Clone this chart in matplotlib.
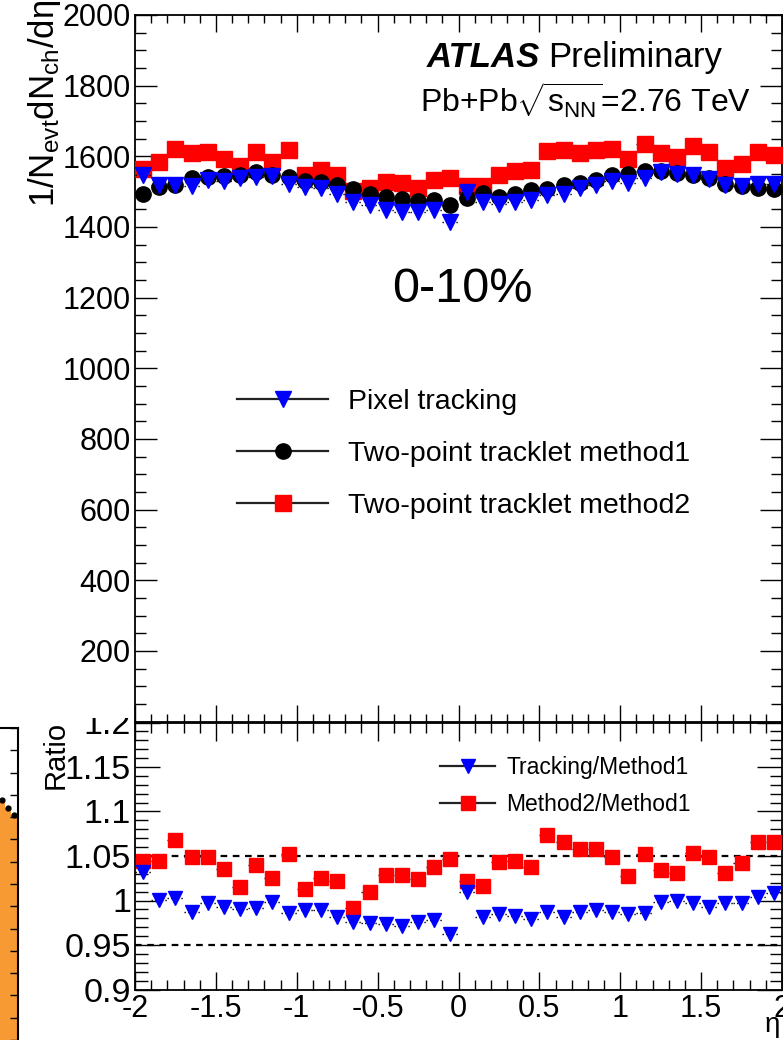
# dNch/deta comparison plot, 0-10% centrality, with ratio panel below
import matplotlib
matplotlib.use("Agg")
import matplotlib.pyplot as plt
from matplotlib.ticker import MultipleLocator, FuncFormatter, NullFormatter
from matplotlib.lines import Line2D
from matplotlib.patches import Rectangle

plt.rcParams['font.family'] = ['Liberation Sans', 'DejaVu Sans']
plt.rcParams['mathtext.fontset'] = 'custom'
plt.rcParams['mathtext.rm'] = 'Liberation Sans'
plt.rcParams['mathtext.it'] = 'Liberation Sans:italic'
plt.rcParams['mathtext.bf'] = 'Liberation Sans:bold'

# ---------- data ----------
eta = [-1.95, -1.85, -1.75, -1.65, -1.55, -1.45, -1.35, -1.25, -1.15, -1.05,
       -0.95, -0.85, -0.75, -0.65, -0.55, -0.45, -0.35, -0.25, -0.15, -0.05,
       0.05, 0.15, 0.25, 0.35, 0.45, 0.55, 0.65, 0.75, 0.85, 0.95,
       1.05, 1.15, 1.25, 1.35, 1.45, 1.55, 1.65, 1.75, 1.85, 1.95]

pixel_tracking = [1546, 1518, 1520, 1516, 1532, 1529, 1539, 1541, 1544, 1523,
                  1513, 1510, 1492, 1471, 1463, 1447, 1441, 1441, 1447, 1413,
                  1499, 1471, 1466, 1471, 1476, 1490, 1494, 1509, 1518, 1529,
                  1525, 1539, 1556, 1551, 1546, 1537, 1518, 1516, 1523, 1523]

method1 = [1494, 1512, 1518, 1539, 1541, 1544, 1548, 1556, 1548, 1541,
           1529, 1527, 1518, 1507, 1494, 1485, 1480, 1473, 1476, 1463,
           1482, 1496, 1486, 1494, 1504, 1507, 1518, 1525, 1533, 1548,
           1550, 1558, 1558, 1553, 1548, 1539, 1523, 1516, 1510, 1507]

method2 = [1563, 1584, 1620, 1610, 1612, 1593, 1573, 1612, 1584, 1617,
           1548, 1560, 1548, 1501, 1509, 1527, 1525, 1509, 1532, 1539,
           1516, 1516, 1546, 1558, 1560, 1614, 1617, 1610, 1619, 1620,
           1593, 1636, 1610, 1598, 1629, 1612, 1568, 1579, 1612, 1605]

ratio_tracking = [1.032, 1.001, 1.003, 0.987, 0.997, 0.993, 0.990, 0.992, 0.998, 0.986,
                  0.989, 0.989, 0.982, 0.976, 0.975, 0.974, 0.971, 0.976, 0.978, 0.962,
                  1.010, 0.981, 0.985, 0.983, 0.979, 0.987, 0.981, 0.987, 0.989, 0.987,
                  0.985, 0.986, 0.998, 0.999, 0.997, 0.993, 0.997, 0.997, 1.004, 1.008]

ratio_method2 = [1.044, 1.044, 1.068, 1.049, 1.049, 1.035, 1.015, 1.040, 1.025, 1.052,
                 1.013, 1.025, 1.022, 0.992, 1.009, 1.029, 1.029, 1.024, 1.038, 1.047,
                 1.022, 1.016, 1.043, 1.044, 1.038, 1.074, 1.066, 1.058, 1.058, 1.049,
                 1.028, 1.052, 1.034, 1.031, 1.053, 1.049, 1.031, 1.042, 1.066, 1.066]

# edge of the neighbouring panel (cut off at the left of the picture)
neighbor_x = [0, 1, 2]
neighbor_edges = [-0.5, 0.5, 1.5, 2.5]
neighbor_vals = [1077, 1041, 1010]

labels_top = ["Pixel tracking", "Two-point tracklet method1", "Two-point tracklet method2"]
labels_ratio = ["Tracking/Method1", "Method2/Method1"]

# ---------- helpers ----------
W, H = 783, 1040

def fx(px):
    return px / W

def fy(py):
    return 1 - py / H

def points(ax, y, marker, color, ms, z):
    eb = ax.errorbar(eta, y, xerr=0.05, fmt=marker, ms=ms, mfc=color, mec=color,
                     ecolor='black', elinewidth=1.0, capsize=0, zorder=z)
    eb[2][0].set_linestyle((0, (1, 1.5)))
    return eb

def frame(ax, xmaj, xmin, ymaj, ymin):
    for s in ax.spines.values():
        s.set_linewidth(1.3)
    ax.tick_params(which='both', direction='in', top=True, right=True, width=1.0)
    ax.tick_params(axis='x', which='major', length=xmaj)
    ax.tick_params(axis='x', which='minor', length=xmin)
    ax.tick_params(axis='y', which='major', length=ymaj)
    ax.tick_params(axis='y', which='minor', length=ymin)

fig = plt.figure(figsize=(W / 100, H / 100), dpi=100)
fig.patch.set_facecolor('white')

# ---------- neighbour panel sliver ----------
ax0 = fig.add_axes([0, 0, fx(17.5), fy(728) - fy(1040)])
ax0.stairs(neighbor_vals, neighbor_edges, fill=True, color='#f79a33', zorder=1)
ax0.plot(neighbor_x, neighbor_vals, 'o', ms=3.5, color='black', zorder=2)
ax0.set_xlim(-0.4, 2.5)
ax0.set_ylim(0, 1400)
ax0.spines['left'].set_visible(False)
ax0.spines['bottom'].set_visible(False)
ax0.spines['right'].set_linewidth(1.5)
ax0.spines['top'].set_linewidth(1.5)
ax0.set_xticks([])
ax0.yaxis.set_ticks_position('right')
ax0.yaxis.set_major_locator(MultipleLocator(100))
ax0.yaxis.set_major_formatter(NullFormatter())
ax0.tick_params(axis='y', direction='in', length=6, width=1.0)

# ---------- upper panel ----------
ax = fig.add_axes([fx(135), fy(721.6), fx(782) - fx(135), fy(15) - fy(721.6)])
points(ax, method2, 's', '#ff0000', 11, 3)
points(ax, method1, 'o', 'black', 11, 4)
points(ax, pixel_tracking, 'v', '#0000ff', 11, 5)
ax.set_xlim(-2, 2)
ax.set_ylim(0, 2000)
ax.xaxis.set_major_locator(MultipleLocator(0.5))
ax.xaxis.set_minor_locator(MultipleLocator(0.1))
ax.xaxis.set_major_formatter(NullFormatter())
ax.yaxis.set_major_locator(MultipleLocator(200))
ax.yaxis.set_minor_locator(MultipleLocator(50))
ax.yaxis.set_major_formatter(FuncFormatter(lambda v, p: '' if v == 0 else '%d' % v))
frame(ax, 12, 6, 16, 8)
ax.tick_params(axis='y', labelsize=22, pad=3)

handles = [
    Line2D([], [], color='#222222', lw=1.6, marker='v', ms=11, mfc='#0000ff', mec='#0000ff'),
    Line2D([], [], color='#222222', lw=1.6, marker='o', ms=11, mfc='black', mec='black'),
    Line2D([], [], color='#222222', lw=1.6, marker='s', ms=11, mfc='#ff0000', mec='#ff0000'),
]
ax.legend(handles, labels_top, loc='center left', bbox_to_anchor=(fx(237), fy(454)),
          bbox_transform=fig.transFigure, frameon=False, fontsize=20.5,
          handlelength=3.2, handletextpad=0.7, labelspacing=0.92,
          borderpad=0, borderaxespad=0)

fig.text(fx(427), fy(67), 'ATLAS', fontsize=25, fontweight='bold', fontstyle='italic',
         ha='left', va='baseline')
fig.text(fx(548), fy(67), 'Preliminary', fontsize=25, ha='left', va='baseline')
fig.text(fx(420), fy(113), r'Pb+Pb$\sqrt{\mathrm{s}_{\mathrm{NN}}}$=2.76 TeV', fontsize=23,
         ha='left', va='baseline')
fig.text(fx(462), fy(290), '0-10%', fontsize=35, ha='center', va='center')
fig.text(fx(45), fy(0), r'$\mathrm{1/N_{evt}dN_{ch}/d\eta}$', fontsize=25,
         rotation=90, ha='center', va='top')

# ---------- ratio panel ----------
ax2 = fig.add_axes([fx(135), fy(989.5), fx(782) - fx(135), fy(722.5) - fy(989.5)])
ax2.axhline(1.05, color='black', lw=1.6, ls=(0, (3, 2.5)), zorder=1)
ax2.axhline(0.95, color='black', lw=1.6, ls=(0, (3, 2.5)), zorder=1)
points(ax2, ratio_method2, 's', '#ff0000', 10, 3)
points(ax2, ratio_tracking, 'v', '#0000ff', 10, 4)
ax2.set_xlim(-2, 2)
ax2.set_ylim(0.9, 1.2)
ax2.xaxis.set_major_locator(MultipleLocator(0.5))
ax2.xaxis.set_minor_locator(MultipleLocator(0.1))
ax2.xaxis.set_major_formatter(FuncFormatter(lambda v, p: '%g' % round(v, 2)))
ax2.yaxis.set_major_locator(MultipleLocator(0.05))
ax2.yaxis.set_minor_locator(MultipleLocator(0.01))
ax2.yaxis.set_major_formatter(FuncFormatter(lambda v, p: '%g' % round(v, 2)))
frame(ax2, 13, 7, 18, 9)
ax2.tick_params(axis='x', labelsize=22, pad=3)
ax2.tick_params(axis='y', labelsize=24.5, pad=3)

rhandles = [
    Line2D([], [], color='#222222', lw=1.6, marker='v', ms=10, mfc='#0000ff', mec='#0000ff'),
    Line2D([], [], color='#222222', lw=1.6, marker='s', ms=10, mfc='#ff0000', mec='#ff0000'),
]
ax2.legend(rhandles, labels_ratio, loc='center left', bbox_to_anchor=(fx(440), fy(786)),
           bbox_transform=fig.transFigure, frameon=False, fontsize=16.5,
           handlelength=2.4, handletextpad=0.5, labelspacing=0.6,
           borderpad=0, borderaxespad=0)

fig.text(fx(56), fy(755), 'Ratio', fontsize=21, rotation=90, ha='center', va='center')
fig.text(fx(772), fy(1027), r'$\mathrm{\eta}$', fontsize=20, ha='center', va='center')

# the upper pad hides the top of the "1.2" label
fig.add_artist(Rectangle((fx(60), fy(718)), fx(73), fy(700) - fy(718),
                         transform=fig.transFigure, facecolor='white', edgecolor='none',
                         zorder=10))

fig.savefig("out.png", dpi=100)
plt.close(fig)
